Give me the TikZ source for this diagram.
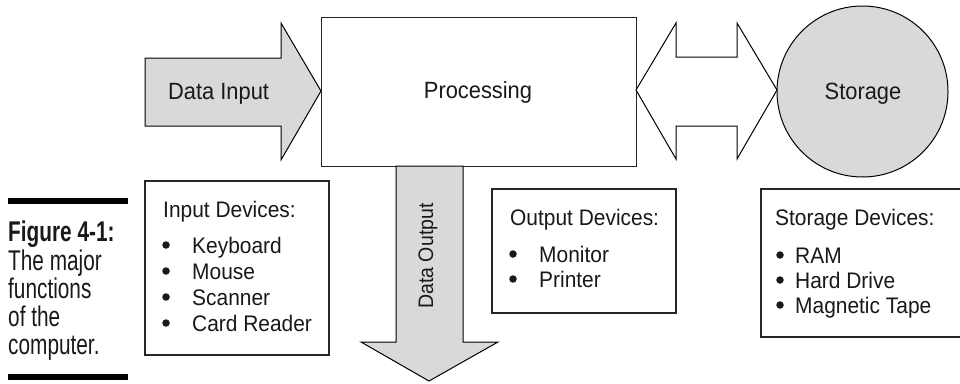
\documentclass[tikz,border=0pt]{standalone}
\usepackage{fontspec}
\setmainfont{Liberation Sans}
\newfontfamily\dfont{Liberation Sans}[FakeStretch=0.93]
\newfontfamily\cfont{Liberation Sans}[FakeStretch=0.73]
\definecolor{fillgray}{HTML}{D9D9D9}
\begin{document}
\begin{tikzpicture}[x=1pt,y=-1pt,
  shapeline/.style={draw=black, line width=1pt, line join=miter},
  boxline/.style={draw=black!85, line width=1.3pt},
  lbl/.style={font=\dfont\fontsize{23.5}{23.5}\selectfont, inner sep=0pt, text=black!90},
  lst/.style={font=\dfont\fontsize{22.5}{22.5}\selectfont, inner sep=0pt, anchor=base west, text=black!90},
  dot/.style={circle, fill=black!90, draw=none, inner sep=0pt, minimum size=7.5pt},
  capt/.style={font=\cfont\fontsize{28.5}{28.5}\selectfont, inner sep=0pt, anchor=base west, text=black!90},
  bar/.style={fill=black, draw=none}
]
\useasboundingbox (0,0) rectangle (960,383);

% Data Input arrow
\path[shapeline, fill=fillgray] (145,58) -- (281,58) -- (281,23) -- (321,91) -- (281,160) -- (281,126) -- (145,126) -- cycle;
\node[lbl, anchor=base west] (datain) at (168,99) {Data Input};

% Processing box
\node[boxline, fill=white, minimum width=315pt, minimum height=149pt, inner sep=0pt, anchor=north west] (proc) at (321,17) {};
\node[lbl, anchor=base] (proctext) at (478,98) {Processing};

% double arrow
\path[shapeline, fill=white] (636,90) -- (676,23) -- (676,57) -- (737,57) -- (737,23) -- (777,90) -- (737,159) -- (737,126) -- (676,126) -- (676,159) -- cycle;

% Storage circle
\node[shapeline, fill=fillgray, circle, minimum size=171pt, inner sep=0pt] (stor) at (862.5,91.5) {};
\node[lbl, anchor=base] (stortext) at (863,99) {Storage};

% Data Output arrow
\path[shapeline, fill=fillgray] (396,166) -- (463,166) -- (463,342) -- (498,342) -- (429,381) -- (361,342) -- (396,342) -- cycle;
\node[font=\dfont\fontsize{21}{21}\selectfont, inner sep=0pt, text=black!90, rotate=90, anchor=base] (dataout) at (433,256) {Data Output};

% Input Devices box
\path[boxline, fill=white] (145,181) rectangle (329,355);
\node[lst] (inT) at (163,217) {Input Devices:};
\node[dot] (inB1) at (166,245) {};
\node[lst] (in1) at (192,253) {Keyboard};
\node[dot] (inB2) at (166,271) {};
\node[lst] (in2) at (192,279) {Mouse};
\node[dot] (inB3) at (166,297) {};
\node[lst] (in3) at (192,305) {Scanner};
\node[dot] (inB4) at (166,323) {};
\node[lst] (in4) at (192,331) {Card Reader};

% Output Devices box
\path[boxline, fill=white] (492,189) rectangle (676,313);
\node[lst] (outT) at (510,225) {Output Devices:};
\node[dot] (outB1) at (513,254) {};
\node[lst] (out1) at (539,262) {Monitor};
\node[dot] (outB2) at (513,279) {};
\node[lst] (out2) at (539,287) {Printer};

% Storage Devices box
\path[boxline, fill=white] (761,189) rectangle (964,337);
\node[lst] (stT) at (775,225) {Storage Devices:};
\node[dot] (stB1) at (780,255) {};
\node[lst] (st1) at (795,263) {RAM};
\node[dot] (stB2) at (780,280) {};
\node[lst] (st2) at (795,288) {Hard Drive};
\node[dot] (stB3) at (780,305) {};
\node[lst] (st3) at (795,313) {Magnetic Tape};

% Caption
\path[bar] (8,198) rectangle (128,204);
\path[bar] (8,374) rectangle (128,380);
\node[capt] (cap1) at (8,241) {\bfseries Figure 4-1:};
\node[capt] (cap2) at (8,270) {The major};
\node[capt] (cap3) at (8,298) {functions};
\node[capt] (cap4) at (8,326) {of the};
\node[capt] (cap5) at (8,354) {computer.};
\end{tikzpicture}
\end{document}
